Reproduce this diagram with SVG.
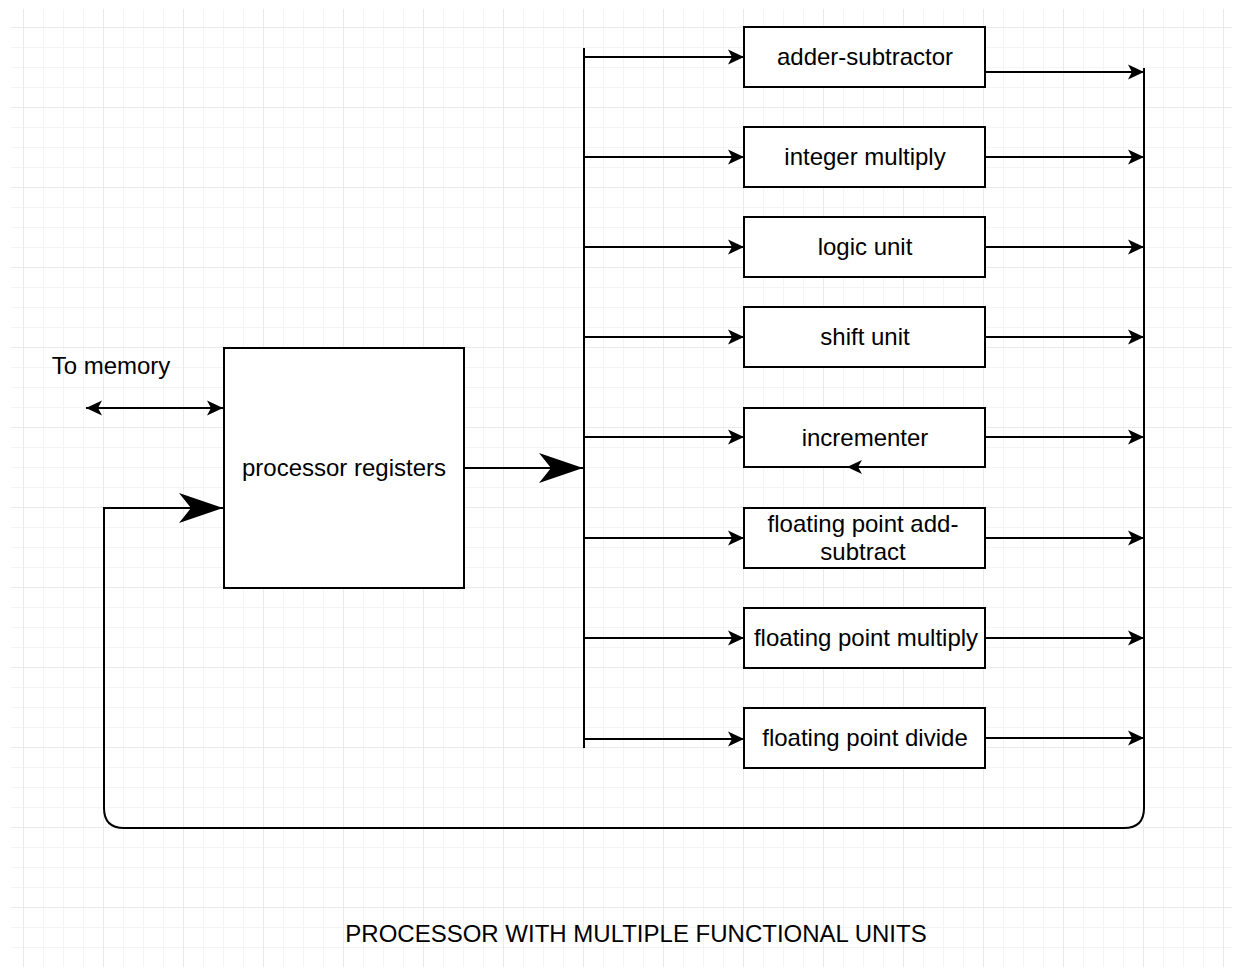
<svg xmlns="http://www.w3.org/2000/svg" width="1234" height="969" viewBox="0 0 1234 969">
<style>
.box{fill:#fff;stroke:#000;stroke-width:2}
.ln{fill:none;stroke:#000;stroke-width:2}
.t{font-family:"Liberation Sans",Arial,Helvetica,sans-serif;font-size:24px;fill:#000;text-anchor:middle}
</style>
<defs>
<pattern id="grid" patternUnits="userSpaceOnUse" x="23" y="27" width="80" height="80">
<rect x="0" y="0" width="80" height="80" fill="#fff"/>
<rect x="20" y="0" width="1" height="80" fill="#f4f4f4"/>
<rect x="40" y="0" width="1" height="80" fill="#f4f4f4"/>
<rect x="60" y="0" width="1" height="80" fill="#f4f4f4"/>
<rect x="0" y="20" width="80" height="1" fill="#f4f4f4"/>
<rect x="0" y="40" width="80" height="1" fill="#f4f4f4"/>
<rect x="0" y="60" width="80" height="1" fill="#f4f4f4"/>
<rect x="0" y="0" width="1" height="80" fill="#e9e9e9"/>
<rect x="0" y="0" width="80" height="1" fill="#e9e9e9"/>
</pattern>
<marker id="a" markerUnits="userSpaceOnUse" markerWidth="17" markerHeight="15" refX="16" refY="7.5" orient="auto" overflow="visible">
<path d="M0,0 L16,7.5 L0,15 L4,7.5 Z" fill="#000"/>
</marker>
<marker id="as" markerUnits="userSpaceOnUse" markerWidth="17" markerHeight="15" refX="16" refY="7.5" orient="auto-start-reverse" overflow="visible">
<path d="M0,0 L16,7.5 L0,15 L4,7.5 Z" fill="#000"/>
</marker>
<marker id="big" markerUnits="userSpaceOnUse" markerWidth="44" markerHeight="30" refX="44" refY="15" orient="auto" overflow="visible">
<path d="M0,0 L44,15 L0,30 L12,15 Z" fill="#000"/>
</marker>
</defs>
<rect width="1234" height="969" fill="#fff"/>
<rect x="11" y="9" width="1221" height="958" fill="url(#grid)"/>

<g id="processor-registers">
<rect class="box" x="224" y="348" width="240" height="240"/>
<text class="t" x="344" y="476">processor registers</text>
</g>
<g id="adder-subtractor">
<rect class="box" x="744" y="27" width="241" height="60"/>
<text class="t" x="865" y="65">adder-subtractor</text>
</g>
<g id="integer-multiply">
<rect class="box" x="744" y="127" width="241" height="60"/>
<text class="t" x="865" y="165">integer multiply</text>
</g>
<g id="logic-unit">
<rect class="box" x="744" y="217" width="241" height="60"/>
<text class="t" x="865" y="255">logic unit</text>
</g>
<g id="shift-unit">
<rect class="box" x="744" y="307" width="241" height="60"/>
<text class="t" x="865" y="345">shift unit</text>
</g>
<g id="incrementer">
<rect class="box" x="744" y="408" width="241" height="59"/>
<text class="t" x="865" y="446">incrementer</text>
</g>
<g id="fp-add-subtract">
<rect class="box" x="744" y="508" width="241" height="60"/>
<text class="t" x="863" y="532">floating point add-</text>
<text class="t" x="863" y="560">subtract</text>
</g>
<g id="fp-multiply">
<rect class="box" x="744" y="608" width="241" height="60"/>
<text class="t" x="866" y="646">floating point multiply</text>
</g>
<g id="fp-divide">
<rect class="box" x="744" y="708" width="241" height="60"/>
<text class="t" x="865" y="746">floating point divide</text>
</g>
<g id="to-memory">
<text class="t" x="111" y="374">To memory</text>
</g>
<g id="title">
<text class="t" x="636" y="942">PROCESSOR WITH MULTIPLE FUNCTIONAL UNITS</text>
</g>

<g id="connectors">
<line class="ln" x1="464" y1="468" x2="583" y2="468" marker-end="url(#big)"/>
<line class="ln" x1="584" y1="48" x2="584" y2="748"/>
<line class="ln" x1="584" y1="57" x2="744" y2="57" marker-end="url(#a)"/>
<line class="ln" x1="584" y1="157" x2="744" y2="157" marker-end="url(#a)"/>
<line class="ln" x1="584" y1="247" x2="744" y2="247" marker-end="url(#a)"/>
<line class="ln" x1="584" y1="337" x2="744" y2="337" marker-end="url(#a)"/>
<line class="ln" x1="584" y1="437" x2="744" y2="437" marker-end="url(#a)"/>
<line class="ln" x1="584" y1="538" x2="744" y2="538" marker-end="url(#a)"/>
<line class="ln" x1="584" y1="638" x2="744" y2="638" marker-end="url(#a)"/>
<line class="ln" x1="584" y1="739" x2="744" y2="739" marker-end="url(#a)"/>
<line class="ln" x1="985" y1="72" x2="1144" y2="72" marker-end="url(#a)"/>
<line class="ln" x1="985" y1="157" x2="1144" y2="157" marker-end="url(#a)"/>
<line class="ln" x1="985" y1="247" x2="1144" y2="247" marker-end="url(#a)"/>
<line class="ln" x1="985" y1="337" x2="1144" y2="337" marker-end="url(#a)"/>
<line class="ln" x1="985" y1="437" x2="1144" y2="437" marker-end="url(#a)"/>
<line class="ln" x1="985" y1="538" x2="1144" y2="538" marker-end="url(#a)"/>
<line class="ln" x1="985" y1="638" x2="1144" y2="638" marker-end="url(#a)"/>
<line class="ln" x1="985" y1="738" x2="1144" y2="738" marker-end="url(#a)"/>
<path class="ln" d="M1144,68 V808 Q1144,828 1124,828 H124 Q104,828 104,808 V508 H223" marker-end="url(#big)"/>
<line class="ln" x1="86" y1="408" x2="223" y2="408" marker-start="url(#as)" marker-end="url(#as)"/>
<path d="M847,467 L862,460 L858,467 L862,474 Z" fill="#000"/>
</g>
</svg>
